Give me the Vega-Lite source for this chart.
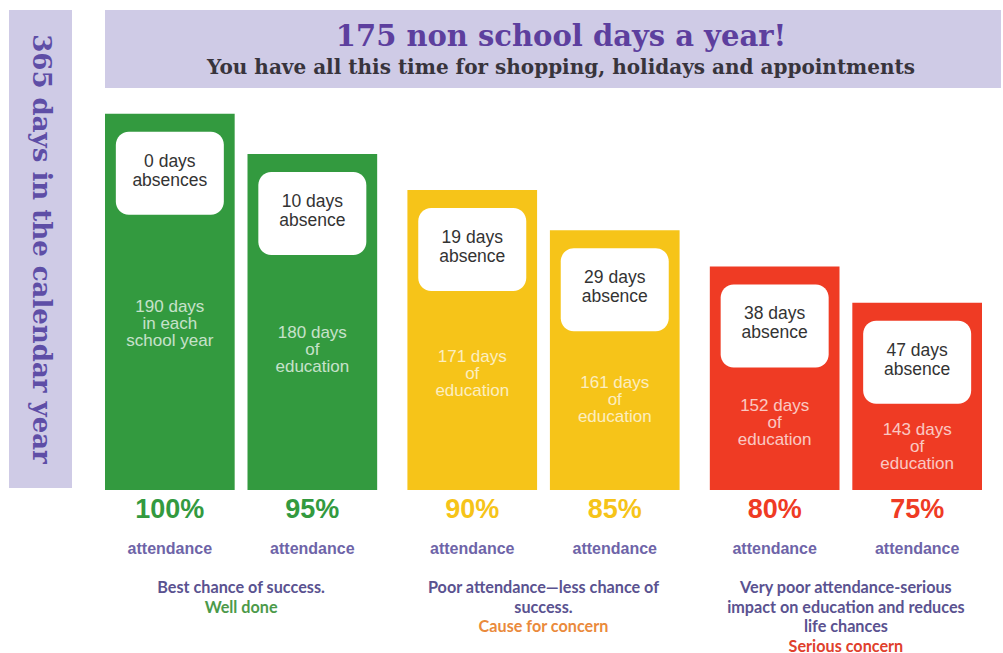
{
  "$schema": "https://vega.github.io/schema/vega-lite/v6.json",
  "background": "white",
  "padding": {"left": 9, "top": 10, "right": 0, "bottom": 0},
  "config": {"view": {"stroke": null}},
  "datasets": {
    "bars": [
      {"group": "g1", "slot": "first", "level": "good", "days": 190, "absence": "0 days\nabsences", "inner": "190 days\nin each\nschool year", "pct": "100%"},
      {"group": "g1", "slot": "second", "level": "good", "days": 180, "absence": "10 days\nabsence", "inner": "180 days\nof\neducation", "pct": "95%"},
      {"group": "g2", "slot": "first", "level": "concern", "days": 171, "absence": "19 days\nabsence", "inner": "171 days\nof\neducation", "pct": "90%"},
      {"group": "g2", "slot": "second", "level": "concern", "days": 161, "absence": "29 days\nabsence", "inner": "161 days\nof\neducation", "pct": "85%"},
      {"group": "g3", "slot": "first", "level": "serious", "days": 152, "absence": "38 days\nabsence", "inner": "152 days\nof\neducation", "pct": "80%"},
      {"group": "g3", "slot": "second", "level": "serious", "days": 143, "absence": "47 days\nabsence", "inner": "143 days\nof\neducation", "pct": "75%"}
    ],
    "captions": [
      {"group": "g1", "level": "good", "row": "c1", "kind": "body", "text": "Best chance of success."},
      {"group": "g1", "level": "good", "row": "c2", "kind": "verdict", "text": "Well done"},
      {"group": "g2", "level": "concern", "row": "c1", "kind": "body", "text": "Poor attendance—less chance of"},
      {"group": "g2", "level": "concern", "row": "c2", "kind": "body", "text": "success."},
      {"group": "g2", "level": "concern", "row": "c3", "kind": "verdict", "text": "Cause for concern"},
      {"group": "g3", "level": "serious", "row": "c1", "kind": "body", "text": "Very poor attendance-serious"},
      {"group": "g3", "level": "serious", "row": "c2", "kind": "body", "text": "impact on education and reduces"},
      {"group": "g3", "level": "serious", "row": "c3", "kind": "body", "text": "life chances"},
      {"group": "g3", "level": "serious", "row": "c4", "kind": "verdict", "text": "Serious concern"}
    ]
  },
  "spacing": 32,
  "hconcat": [
    {
      "width": 63,
      "height": 478,
      "view": {"fill": "#cfcbe6", "stroke": null},
      "data": {"values": [{"label": "365 days in the calendar year"}]},
      "mark": {"type": "text", "angle": 90, "font": "DejaVu Serif", "fontWeight": "bold", "fontSize": 26, "color": "#5e4ea6", "align": "center", "baseline": "middle"},
      "encoding": {"text": {"field": "label", "type": "nominal"}}
    },
    {
      "spacing": 0,
      "vconcat": [
        {
          "width": 896,
          "height": 78,
          "view": {"fill": "#cfcbe6", "stroke": null},
          "data": {"values": [{"title": "175 non school days a year!", "subtitle": "You have all this time for shopping, holidays and appointments"}]},
          "layer": [
            {
              "mark": {"type": "text", "font": "DejaVu Serif", "fontWeight": "bold", "fontSize": 29, "color": "#5d3f9e", "dx": 8, "dy": -12, "align": "center", "baseline": "middle"},
              "encoding": {"text": {"field": "title", "type": "nominal"}}
            },
            {
              "mark": {"type": "text", "font": "DejaVu Serif", "fontWeight": "bold", "fontSize": 20, "color": "#38343c", "dx": 8, "dy": 19, "align": "center", "baseline": "middle"},
              "encoding": {"text": {"field": "subtitle", "type": "nominal"}}
            }
          ]
        },
        {
          "width": 877,
          "height": 402,
          "data": {"name": "bars"},
          "encoding": {
            "x": {"field": "group", "type": "nominal", "axis": null, "scale": {"paddingInner": 0.1, "paddingOuter": 0}},
            "xOffset": {"field": "slot", "type": "nominal", "scale": {"paddingInner": 0.09, "paddingOuter": 0}}
          },
          "layer": [
            {
              "layer": [
                {
                  "mark": {"type": "bar"},
                  "encoding": {
                    "y": {"field": "days", "type": "quantitative", "axis": null, "scale": {"domain": [96.4, 196.4], "zero": false, "nice": false}},
                    "y2": {"datum": 96.4},
                    "color": {"field": "level", "type": "nominal", "legend": null, "scale": {"domain": ["good", "concern", "serious"], "range": ["#339a3f", "#f6c419", "#ef3b24"]}}
                  }
                },
                {
                  "mark": {"type": "bar", "color": "white", "cornerRadius": 13, "width": 108, "yOffset": 18, "y2Offset": 101},
                  "encoding": {
                    "y": {"field": "days", "type": "quantitative"},
                    "y2": {"field": "days"}
                  }
                },
                {
                  "mark": {"type": "text", "font": "Liberation Sans", "fontSize": 17.5, "color": "#333333", "lineBreak": "\n", "lineHeight": 19, "dy": 48, "align": "center", "baseline": "middle"},
                  "encoding": {
                    "y": {"field": "days", "type": "quantitative"},
                    "text": {"field": "absence", "type": "nominal"}
                  }
                }
              ]
            },
            {
              "mark": {"type": "text", "font": "Liberation Sans", "fontSize": 17, "color": "white", "opacity": 0.72, "lineBreak": "\n", "lineHeight": 17, "align": "center", "baseline": "middle"},
              "encoding": {
                "y": {"field": "days", "type": "quantitative", "axis": null, "scale": {"domain": [119.75, 274.35], "zero": false, "nice": false}},
                "text": {"field": "inner", "type": "nominal"}
              }
            }
          ],
          "resolve": {"scale": {"y": "independent"}}
        },
        {
          "width": 877,
          "height": 163,
          "encoding": {
            "x": {"field": "group", "type": "nominal", "axis": null, "scale": {"paddingInner": 0.1, "paddingOuter": 0}}
          },
          "layer": [
            {
              "data": {"name": "bars"},
              "mark": {"type": "text", "font": "Liberation Sans", "fontWeight": "bold", "fontSize": 27, "align": "center", "baseline": "middle"},
              "encoding": {
                "xOffset": {"field": "slot", "type": "nominal", "scale": {"paddingInner": 0.09, "paddingOuter": 0}},
                "y": {"datum": "pct", "type": "ordinal", "axis": null, "scale": {"type": "point", "domain": ["pct", "s1", "att", "s2", "c1", "c2", "c3", "c4"], "padding": 0.68, "align": 0.755}},
                "text": {"field": "pct", "type": "nominal"},
                "color": {"field": "level", "type": "nominal", "legend": null, "scale": {"domain": ["good", "concern", "serious"], "range": ["#3a9a4a", "#f3c830", "#e5392b"]}}
              }
            },
            {
              "data": {"name": "bars"},
              "mark": {"type": "text", "font": "Liberation Sans", "fontWeight": "bold", "fontSize": 16, "color": "#6e64a8", "align": "center", "baseline": "middle"},
              "encoding": {
                "xOffset": {"field": "slot", "type": "nominal"},
                "y": {"datum": "att", "type": "ordinal"},
                "text": {"value": "attendance"}
              }
            },
            {
              "data": {"name": "captions"},
              "transform": [{"filter": "datum.kind === 'body'"}],
              "mark": {"type": "text", "font": "Lato", "fontWeight": "bold", "fontSize": 16.2, "color": "#5a5290", "align": "center", "baseline": "middle"},
              "encoding": {
                "y": {"field": "row", "type": "ordinal"},
                "text": {"field": "text", "type": "nominal"}
              }
            },
            {
              "data": {"name": "captions"},
              "transform": [{"filter": "datum.kind === 'verdict'"}],
              "mark": {"type": "text", "font": "Lato", "fontWeight": "bold", "fontSize": 16.2, "align": "center", "baseline": "middle"},
              "encoding": {
                "y": {"field": "row", "type": "ordinal"},
                "text": {"field": "text", "type": "nominal"},
                "fill": {"field": "level", "type": "nominal", "legend": null, "scale": {"domain": ["good", "concern", "serious"], "range": ["#4c9a4a", "#ea8a3c", "#e0402c"]}}
              }
            }
          ]
        }
      ]
    }
  ]
}
